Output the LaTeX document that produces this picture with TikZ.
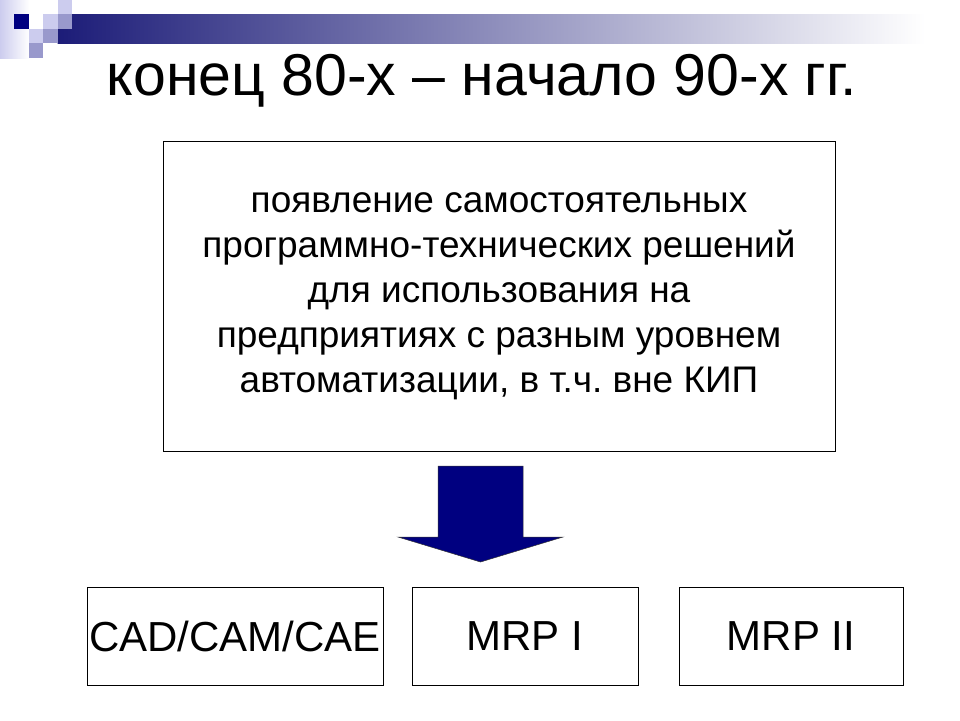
\documentclass[tikz,border=0pt]{standalone}
\usepackage{fontspec}
\setmainfont{Liberation Sans}
\usepackage{xcolor}
\usepackage{tikz}
\definecolor{navyfill}{RGB}{0,0,128}
\definecolor{bardark}{RGB}{28,28,120}
\definecolor{sqmid}{RGB}{153,153,204}
\definecolor{sqlight}{RGB}{204,204,238}
\frenchspacing

\begin{document}
\begin{tikzpicture}[x=1pt,y=-1pt,
        title text/.style={anchor=base,inner sep=0pt,font=\fontsize{59}{66}\selectfont},
        main box/.style={draw,line width=1pt,minimum width=672pt,minimum height=310pt,
          align=center,font=\fontsize{37}{45}\selectfont},
        item box/.style={draw,line width=1pt,minimum width=#1,minimum height=98pt,
          inner sep=0pt,font=\fontsize{42}{48}\selectfont},
        block arrow/.style={fill=navyfill,draw=black!80,line width=0.5pt}
      ]
      \useasboundingbox (0,0) rectangle (960,720);

      % corner decoration
      \shade[left color=sqlight,right color=white] (0,0) rectangle (29,58);
      \shade[left color=bardark,right color=white] (57.6,14.4) rectangle (925,43.2);
      \foreach \c/\r/\col in {4/0/sqlight,1/1/navyfill,3/1/sqlight,4/1/sqmid,
                              2/2/sqlight,3/2/sqmid,2/3/sqmid}
        \fill[\col] (\c*14.4,\r*14.4) rectangle ++(14.4,14.4);

      \node[title text] (title) at (482,95) {конец 80-х – начало 90-х гг.};

      \node[main box] (main) at (499,296) {появление самостоятельных\\
        программно-технических решений\\
        для использования на\\
        предприятиях с разным уровнем\\
        автоматизации, в т.ч. вне КИП};

      % block arrow
      \coordinate (arrow top) at (480.5,466);
      \path[block arrow] (arrow top) ++(-42.5,0) -- ++(85,0) -- ++(0,71) -- ++(40,0)
        -- ++(-82.5,25) -- ++(-82.5,-25) -- ++(40,0) -- cycle;

      \node[item box=296pt] (cad) at (235,636) {CAD/CAM/CAE};
      \node[item box=226pt] (mrp1) at (525,636) {MRP I};
      \node[item box=224pt] (mrp2) at (791,636) {MRP II};
    \end{tikzpicture}
\end{document}
